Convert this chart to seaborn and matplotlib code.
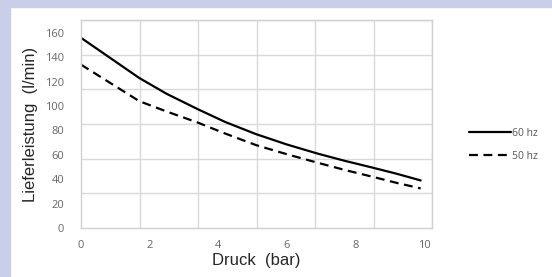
import numpy as np
import pandas as pd
import seaborn as sns
import matplotlib.pyplot as plt
from matplotlib.patches import Rectangle

# Druck (bar) vs. Lieferleistung (l/min)
druck = [0, 1.7, 2.5, 3.4, 4.2, 5.1, 6.0, 6.9, 7.7, 8.5, 9.2, 9.9]
leistung_60hz = [156, 123, 110, 97.5, 87, 77, 68.5, 61, 55, 49.5, 44.5, 39]
leistung_50hz = [134, 104, 95.5, 86.5, 77.5, 68, 60.5, 53.5, 47.5, 42, 37, 32.5]
serien = ["60 hz", "50 hz"]
x_ticks = [0, 2, 4, 6, 8, 10]
y_ticks = [0, 20, 40, 60, 80, 100, 120, 140, 160]

df = pd.DataFrame({
    "Druck": druck * 2,
    "Leistung": leistung_60hz + leistung_50hz,
    "Serie": [serien[0]] * len(druck) + [serien[1]] * len(druck),
})

sns.set_style("white")
plt.rcParams["font.family"] = ["Liberation Sans", "DejaVu Sans"]

fig = plt.figure(figsize=(5.52, 2.77), dpi=100)
fig.patch.set_facecolor("white")
# lavender frame on top and left edge
fig.patches.append(Rectangle((0, 1 - 7 / 277), 1, 7 / 277, transform=fig.transFigure,
                             color="#c9cfe9", zorder=0))
fig.patches.append(Rectangle((0, 0), 10 / 552, 1, transform=fig.transFigure,
                             color="#c9cfe9", zorder=0))

ax = fig.add_axes([81 / 552, 1 - 228 / 277, (432 - 81) / 552, (228 - 20) / 277])

sns.lineplot(data=df, x="Druck", y="Leistung", style="Serie", style_order=serien,
             dashes={"60 hz": "", "50 hz": (4, 2.5)}, color="black", linewidth=1.6,
             sort=False, ax=ax)

xmax, ymax = 10.23, 170.6
ax.set_xlim(0, xmax)
ax.set_ylim(0, ymax)
ax.set_xticks(x_ticks)
ax.set_yticks(y_ticks)
ax.set_xticks(np.linspace(0, xmax, 7), minor=True)
ax.set_yticks(np.linspace(0, ymax, 7), minor=True)
ax.grid(which="minor", color="#d9d9d9", linewidth=1)
ax.grid(which="major", visible=False)
ax.tick_params(which="both", length=0)
ax.tick_params(axis="y", pad=12, labelsize=8, labelcolor="#666666")
ax.tick_params(axis="x", pad=9, labelsize=8, labelcolor="#666666")
for lbl in ax.get_xticklabels() + ax.get_yticklabels():
    lbl.set_family(["Open Sans", "DejaVu Sans"])
for sp in ax.spines.values():
    sp.set_color("#d0d0d0")
    sp.set_linewidth(1)

ax.set_xlabel("Druck  (bar)", fontsize=12, labelpad=1)
ax.set_ylabel("Lieferleistung  (l/min)", fontsize=12, labelpad=5)

leg = ax.legend(loc="center left", bbox_to_anchor=(1.08, 0.4), frameon=False,
                handlelength=4.0, handletextpad=0.1, labelspacing=1.2,
                labelcolor="#555555", prop={"family": ["Open Sans", "DejaVu Sans"], "size": 7.5})
for h in leg.get_lines():
    h.set_linewidth(1.6)

fig.savefig("out.png", dpi=100)
